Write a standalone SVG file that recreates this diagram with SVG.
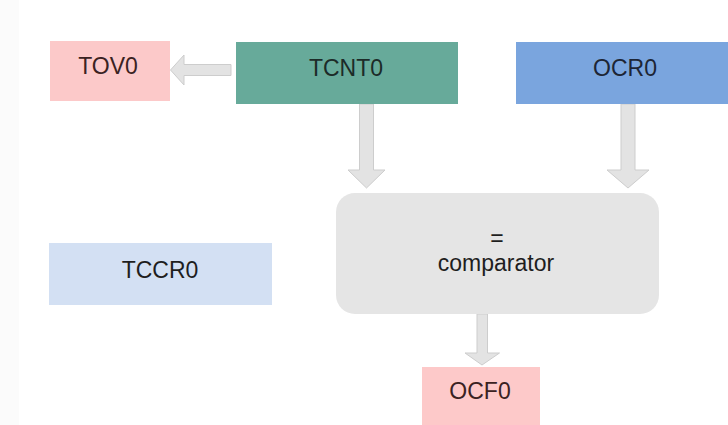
<svg xmlns="http://www.w3.org/2000/svg" width="728" height="425" viewBox="0 0 728 425">
<style>
  text { font-family: "Liberation Sans", Arial, sans-serif; font-size: 23px; fill: #1e1e1e; text-anchor: middle; }
  .arrow { fill: #e3e3e3; stroke: #cdcdcd; stroke-width: 1; }
</style>
<rect x="0" y="0" width="728" height="425" fill="#ffffff"/>
<rect x="0" y="0" width="19" height="425" fill="#fbfbfb"/>
<g id="connectors">
  <polygon class="arrow" points="231,64.5 184,64.5 184,55 170.5,70 184,85 184,75.5 231,75.5"/>
  <polygon class="arrow" points="359.5,104 373.5,104 373.5,170 385,170 366.5,188 348,170 359.5,170"/>
  <polygon class="arrow" points="621,104 635,104 635,170 649,170 628,188 607,170 621,170"/>
  <polygon class="arrow" points="477,314 487.5,314 487.5,353 499.5,353 482,365 465,353 477,353"/>
</g>
<g id="TOV0">
  <rect x="50" y="41" width="120" height="60" fill="#fcc9c9"/>
  <text x="108" y="74" style="fill:#3a2222">TOV0</text>
</g>
<g id="TCNT0">
  <rect x="236" y="42" width="222" height="62" fill="#67aa9a"/>
  <text x="346" y="76" style="fill:#1c2b28">TCNT0</text>
</g>
<g id="OCR0">
  <rect x="516" y="42" width="220" height="62" fill="#7aa5de"/>
  <text x="625" y="76" style="fill:#1d2535">OCR0</text>
</g>
<g id="TCCR0">
  <rect x="49" y="243" width="223" height="62" fill="#d3e0f3"/>
  <text x="160" y="278">TCCR0</text>
</g>
<g id="comparator">
  <rect x="336" y="193" width="323" height="121" rx="19" ry="19" fill="#e5e5e5"/>
  <text x="497" y="246">=</text>
  <text x="496" y="271">comparator</text>
</g>
<g id="OCF0">
  <rect x="422" y="367" width="118" height="60" fill="#fdc9c9"/>
  <text x="480" y="399" style="fill:#3a2222">OCF0</text>
</g>
</svg>
